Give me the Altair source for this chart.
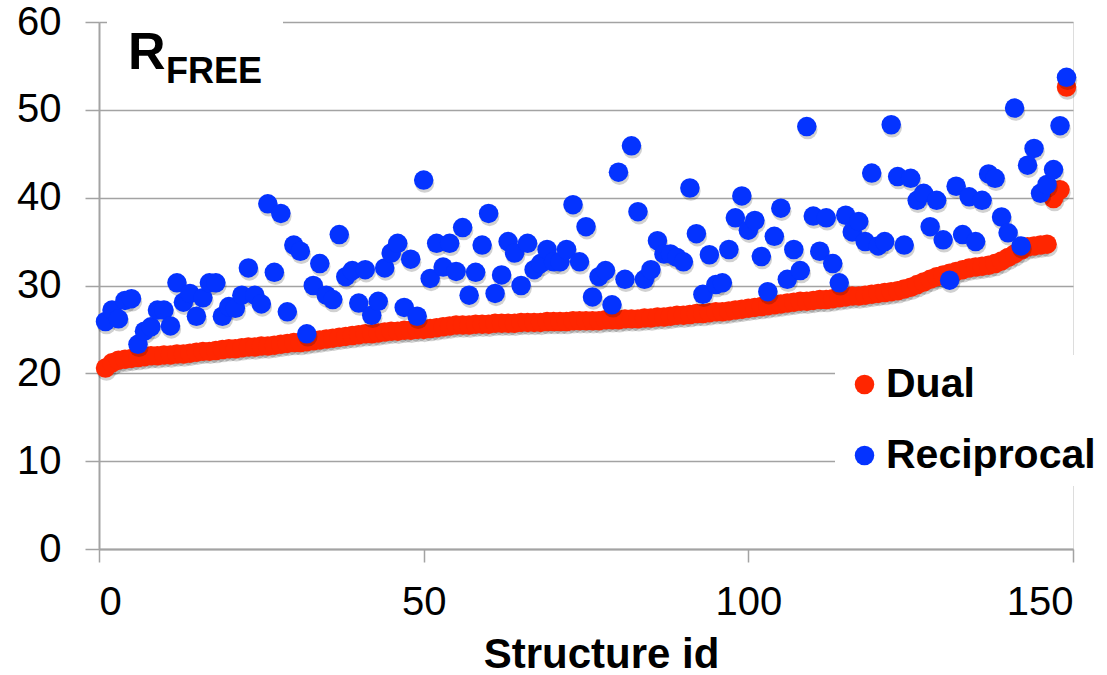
import altair as alt
import pandas as pd

ids = list(range(1, 150))

dual = [
    20.6, 21.2, 21.5, 21.6, 21.7, 21.8, 21.9, 22.0, 22.0, 22.1,
    22.1, 22.2, 22.2, 22.3, 22.4, 22.5, 22.5, 22.6, 22.7, 22.8,
    22.8, 22.9, 23.0, 23.0, 23.1, 23.1, 23.2, 23.3, 23.4, 23.5,
    23.5, 23.6, 23.7, 23.8, 23.9, 24.0, 24.1, 24.2, 24.3, 24.4,
    24.5, 24.5, 24.6, 24.7, 24.8, 24.8, 24.9, 24.9, 25.0, 25.0,
    25.1, 25.2, 25.3, 25.4, 25.5, 25.5, 25.5, 25.6, 25.6, 25.6,
    25.7, 25.7, 25.7, 25.7, 25.8, 25.8, 25.8, 25.8, 25.9, 25.9,
    25.9, 25.9, 26.0, 26.0, 26.0, 26.0, 26.0, 26.1, 26.1, 26.1,
    26.2, 26.2, 26.2, 26.3, 26.3, 26.4, 26.4, 26.5, 26.6, 26.6,
    26.7, 26.8, 26.8, 26.9, 27.0, 27.0, 27.1, 27.2, 27.3, 27.4,
    27.5, 27.6, 27.7, 27.8, 27.9, 28.0, 28.1, 28.2, 28.2, 28.3,
    28.4, 28.4, 28.5, 28.6, 28.7, 28.8, 28.8, 28.9, 29.0, 29.1,
    29.2, 29.3, 29.4, 29.6, 29.8, 30.1, 30.4, 30.7, 31.0, 31.2,
    31.4, 31.6, 31.8, 32.0, 32.1, 32.2, 32.3, 32.5, 32.8, 33.2,
    33.6, 34.0, 34.4, 34.5, 34.6, 34.7, 39.9, 40.9, 52.6,
]

reciprocal = [
    25.9, 27.2, 26.2, 28.3, 28.5, 23.3, 24.8, 25.3, 27.2, 27.2,
    25.4, 30.3, 28.1, 29.1, 26.5, 28.6, 30.3, 30.3, 26.5, 27.6,
    27.4, 28.9, 32.0, 28.9, 27.9, 39.3, 31.5, 38.2, 27.0, 34.6,
    33.9, 24.5, 30.0, 32.5, 28.9, 28.4, 35.8, 31.0, 31.7, 28.0,
    31.8, 26.6, 28.2, 32.0, 33.7, 34.8, 27.5, 33.0, 26.5, 42.0,
    30.8, 34.8, 32.1, 34.8, 31.6, 36.6, 28.9, 31.5, 34.6, 38.2,
    29.1, 31.2, 35.0, 33.7, 30.0, 34.8, 31.8, 32.5, 34.1, 32.7,
    32.7, 34.1, 39.2, 32.7, 36.7, 28.7, 31.0, 31.7, 27.8, 42.9,
    30.7, 45.9, 38.4, 30.7, 31.8, 35.1, 33.6, 33.6, 33.2, 32.7,
    41.1, 35.9, 29.0, 33.5, 30.1, 30.3, 34.1, 37.7, 40.2, 36.3,
    37.4, 33.3, 29.3, 35.6, 38.8, 30.7, 34.1, 31.7, 48.1, 37.9,
    33.9, 37.7, 32.5, 30.3, 38.0, 36.1, 37.3, 35.0, 42.8, 34.5,
    35.0, 48.3, 42.4, 34.6, 42.2, 39.7, 40.5, 36.7, 39.7, 35.2,
    30.6, 41.3, 35.8, 40.1, 35.0, 39.7, 42.7, 42.2, 37.8, 36.0,
    50.2, 34.5, 43.7, 45.6, 40.5, 41.5, 43.2, 48.2, 53.7,
]

series_names = ["Dual", "Reciprocal"]
series_colors = ["#ff2600", "#0433ff"]
x_ticks = [0, 50, 100, 150]
y_ticks = [0, 10, 20, 30, 40, 50, 60]

df = pd.DataFrame({"id": ids, "Dual": dual, "Reciprocal": reciprocal})
one = pd.DataFrame({"a": [0]})

FONT = "Liberation Sans"
GRID = "#a3a3a3"
MSIZE = 380

x_enc = alt.X(
    "id:Q",
    scale=alt.Scale(domain=[0, 150], nice=False, zero=False),
    axis=alt.Axis(
        values=x_ticks, title="Structure id", grid=False,
        labelFontSize=40, labelFont=FONT, labelColor="#000",
        labelPadding=20, tickSize=13, tickColor=GRID, tickWidth=1.5,
        domainColor=GRID, domainWidth=2,
        titleFont=FONT, titleFontSize=42, titleFontWeight="bold",
        titleColor="#000", titleX=502, titleY=118,
        titleBaseline="alphabetic", titleAlign="center",
    ),
)

y_enc = alt.Y(
    "value:Q",
    scale=alt.Scale(domain=[0, 60], nice=False),
    axis=alt.Axis(
        values=y_ticks, title=None, grid=True, gridColor=GRID,
        gridWidth=1.5, labelFontSize=40, labelFont=FONT,
        labelColor="#000", labelPadding=24, tickSize=14,
        tickColor=GRID, tickWidth=1.5, domainColor=GRID, domainWidth=2,
    ),
)

color_scale = alt.Scale(domain=series_names, range=series_colors)
legend = alt.Legend(
    title=None, orient="none", legendX=736, legendY=333,
    symbolType="circle", symbolSize=MSIZE, symbolStrokeWidth=0,
    labelFont=FONT, labelFontSize=41, labelFontWeight="bold",
    labelColor="#000", labelOffset=1, labelLimit=0, rowPadding=29,
    padding=9, fillColor="white", strokeColor="white",
)

layers = []
for name in series_names:
    base = alt.Chart(df).transform_fold([name], as_=["series", "value"])
    layers.append(
        base.mark_circle(size=MSIZE, color="#000", opacity=0.18,
                         xOffset=1, yOffset=3)
        .encode(x=x_enc, y=y_enc)
    )
    layers.append(
        base.mark_circle(size=MSIZE, opacity=1)
        .encode(
            x=x_enc, y=y_enc,
            color=alt.Color("series:N", scale=color_scale, legend=legend),
        )
    )

title_bg = alt.Chart(one).mark_rect(color="white").encode(
    x=alt.value(8), x2=alt.value(184), y=alt.value(-12), y2=alt.value(70)
)
title_r = alt.Chart(one).mark_text(
    text="R", font=FONT, fontSize=52, fontWeight="bold", align="left",
    baseline="alphabetic", color="#000",
).encode(x=alt.value(29), y=alt.value(47))
title_sub = alt.Chart(one).mark_text(
    text="FREE", font=FONT, fontSize=36, fontWeight="bold", align="left",
    baseline="alphabetic", color="#000",
).encode(x=alt.value(67), y=alt.value(61))

chart = alt.layer(*layers, title_bg, title_r, title_sub).properties(
    width=974, height=527,
    autosize=alt.AutoSizeParams(type="none"),
    padding={"left": 99, "top": 22, "right": 34, "bottom": 126},
).configure_view(stroke=None).configure(background="white")

chart.save("out.html", embed_options={"renderer": "svg", "actions": False})
